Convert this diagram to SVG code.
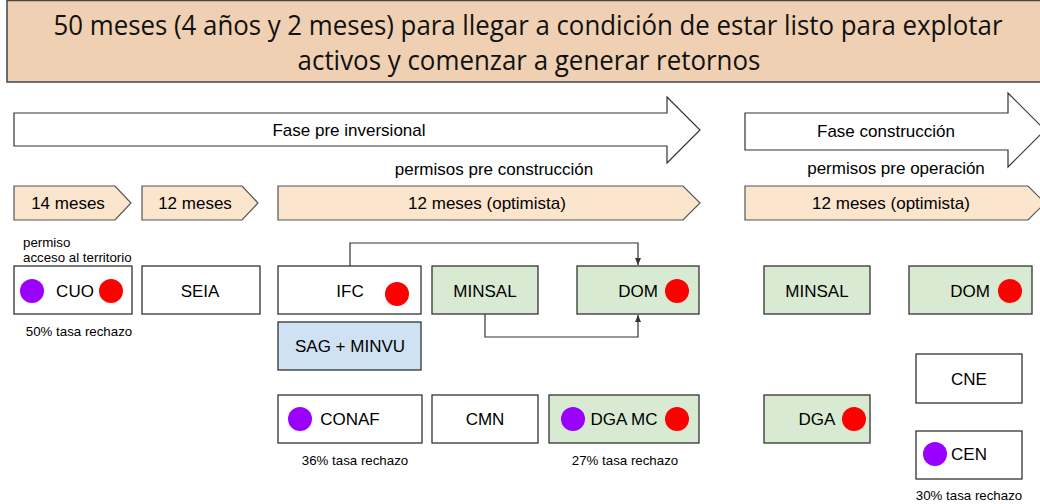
<svg xmlns="http://www.w3.org/2000/svg" width="1040" height="504" viewBox="0 0 1040 504">
<style>
.t{font-family:"Liberation Sans",Arial,sans-serif;fill:#000;text-anchor:middle}
.lbl{font-size:17px}
.sm{font-size:13.3px}
.ph{font-size:17px}
.box{stroke:#333;stroke-width:1.3;fill:#fff}
.g{fill:#d9ead3}
.b{fill:#cfe2f3}
.chev{fill:#fce5cd;stroke:#555;stroke-width:1.2}
.arr{fill:#fff;stroke:#333;stroke-width:1.2}
.p{fill:#9900ff}
.r{fill:#ff0000}
.conn{fill:none;stroke:#333;stroke-width:1.2}
.st{text-anchor:start}
.ttl{font-family:"Open Sans","Noto Sans",sans-serif;font-size:28px;text-anchor:middle;fill:#111}
</style>
<defs>
<marker id="ah" markerWidth="8" markerHeight="8" refX="7" refY="4" orient="auto" markerUnits="userSpaceOnUse">
<path d="M0,1 L7,4 L0,7 z" fill="#333"/>
</marker>
</defs>
<rect width="1040" height="504" fill="#fff"/>
<g id="title">
<rect x="7" y="0.5" width="1040" height="81.5" fill="#efd0b2" stroke="#444" stroke-width="1.5"/>
<text class="ttl" transform="translate(528,35) scale(0.922,1)" x="0" y="0">50 meses (4 años y 2 meses) para llegar a condición de estar listo para explotar</text>
<text class="ttl" transform="translate(529,70) scale(0.925,1)" x="0" y="0">activos y comenzar a generar retornos</text>
</g>
<g id="fase-pre-inversional">
<polygon class="arr" points="14,113 667,113 667,97 700,130 667,163 667,146 14,146"/>
<text class="t ph" x="349" y="136">Fase pre inversional</text>
</g>
<g id="fase-construccion">
<polygon class="arr" points="745,113 1008,113 1008,93 1045,130 1008,167 1008,150 745,150"/>
<text class="t ph" x="886" y="137">Fase construcción</text>
</g>
<text class="t ph" x="494" y="175">permisos pre construcción</text>
<text class="t ph" x="896" y="174">permisos pre operación</text>
<g id="chev1">
<polygon class="chev" points="14,186 115,186 131,203 115,220 14,220"/>
<text class="t lbl" x="68" y="209">14 meses</text>
</g>
<g id="chev2">
<polygon class="chev" points="142,186 242,186 258,203 242,220 142,220"/>
<text class="t lbl" x="195" y="209">12 meses</text>
</g>
<g id="chev3">
<polygon class="chev" points="278,186 683,186 700,203 683,220 278,220"/>
<text class="t lbl" x="487" y="209">12 meses (optimista)</text>
</g>
<g id="chev4">
<polygon class="chev" points="745,186 1028,186 1045,203 1028,220 745,220"/>
<text class="t lbl" x="891" y="209">12 meses (optimista)</text>
</g>
<g id="connectors">
<polyline class="conn" points="350,266 350,243 638,243 638,265" marker-end="url(#ah)"/>
<polyline class="conn" points="485,314 485,337 638,337 638,315" marker-end="url(#ah)"/>
</g>
<g id="cuo">
<text class="t sm st" x="23" y="247">permiso</text>
<text class="t sm st" x="23" y="262">acceso al territorio</text>
<rect class="box" x="14" y="266" width="118" height="48"/>
<circle class="p" cx="32" cy="291" r="12"/>
<circle class="r" cx="111" cy="291" r="12"/>
<text class="t lbl" x="75" y="297">CUO</text>
<text class="t sm" x="79" y="336">50% tasa rechazo</text>
</g>
<g id="seia">
<rect class="box" x="142" y="266" width="118" height="48"/>
<text class="t lbl" x="200" y="297">SEIA</text>
</g>
<g id="ifc">
<rect class="box" x="278" y="266" width="143" height="48"/>
<text class="t lbl" x="350" y="297">IFC</text>
<circle class="r" cx="397" cy="294" r="12"/>
</g>
<g id="sag-minvu">
<rect class="box b" x="278" y="322" width="143" height="48"/>
<text class="t lbl" x="350" y="352">SAG + MINVU</text>
</g>
<g id="minsal1">
<rect class="box g" x="432" y="266" width="106" height="48"/>
<text class="t lbl" x="485" y="297">MINSAL</text>
</g>
<g id="dom1">
<rect class="box g" x="577" y="266" width="122" height="48"/>
<text class="t lbl" x="638" y="297">DOM</text>
<circle class="r" cx="677" cy="291" r="12"/>
</g>
<g id="conaf">
<rect class="box" x="278" y="395" width="144" height="48"/>
<circle class="p" cx="300" cy="419" r="12"/>
<text class="t lbl" x="350" y="425">CONAF</text>
<text class="t sm" x="355" y="465">36% tasa rechazo</text>
</g>
<g id="cmn">
<rect class="box" x="432" y="395" width="106" height="48"/>
<text class="t lbl" x="485" y="425">CMN</text>
</g>
<g id="dga-mc">
<rect class="box g" x="549" y="395" width="150" height="48"/>
<circle class="p" cx="573" cy="419" r="12"/>
<circle class="r" cx="677" cy="419" r="12"/>
<text class="t lbl" x="624" y="425">DGA MC</text>
<text class="t sm" x="625" y="465">27% tasa rechazo</text>
</g>
<g id="minsal2">
<rect class="box g" x="764" y="266" width="106" height="48"/>
<text class="t lbl" x="817" y="297">MINSAL</text>
</g>
<g id="dom2">
<rect class="box g" x="909" y="266" width="123" height="48"/>
<text class="t lbl" x="970" y="297">DOM</text>
<circle class="r" cx="1010" cy="291" r="12"/>
</g>
<g id="cne">
<rect class="box" x="916" y="354" width="106" height="49"/>
<text class="t lbl" x="969" y="385">CNE</text>
</g>
<g id="dga">
<rect class="box g" x="764" y="395" width="106" height="48"/>
<text class="t lbl" x="817" y="425">DGA</text>
<circle class="r" cx="854" cy="419" r="12"/>
</g>
<g id="cen">
<rect class="box" x="916" y="431" width="106" height="48"/>
<circle class="p" cx="935" cy="454" r="12"/>
<text class="t lbl" x="969" y="460">CEN</text>
<text class="t sm" x="969" y="500">30% tasa rechazo</text>
</g>
</svg>
